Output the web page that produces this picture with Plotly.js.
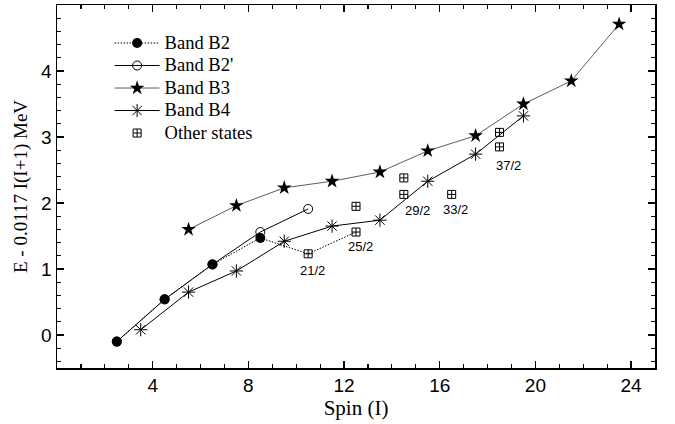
<!DOCTYPE html>
<html><head><meta charset="utf-8">
<script src="https://cdn.plot.ly/plotly-3.0.1.min.js"></script>
<style>html,body{margin:0;padding:0;background:#fff;}#chart{width:675px;height:424px;}</style>
</head><body><div id="chart"></div>
<script>
// Band B2 (filled circles)
const b2Spin = [2.5, 4.5, 6.5, 8.5];
const b2E = [-0.10, 0.54, 1.07, 1.47];
// Band B2' (open circles, sharing the low-spin part of B2)
const b2pSpin = [2.5, 4.5, 6.5, 8.5, 10.5];
const b2pE = [-0.10, 0.54, 1.07, 1.56, 1.91];
// Band B3 (stars)
const b3Spin = [5.5, 7.5, 9.5, 11.5, 13.5, 15.5, 17.5, 19.5, 21.5, 23.5];
const b3E = [1.60, 1.96, 2.23, 2.33, 2.47, 2.79, 3.02, 3.50, 3.85, 4.71];
// Band B4 (asterisks)
const b4Spin = [3.5, 5.5, 7.5, 9.5, 11.5, 13.5, 15.5, 17.5, 19.5];
const b4E = [0.08, 0.65, 0.97, 1.42, 1.65, 1.74, 2.33, 2.74, 3.32];
// Other states
const otherSpin = [10.5, 12.5, 12.5, 14.5, 14.5, 16.5, 18.5, 18.5];
const otherE = [1.23, 1.56, 1.95, 2.38, 2.13, 2.13, 3.07, 2.85];
const otherLabels = ["21/2", "25/2", "", "", "29/2", "33/2", "", "37/2"];
// dotted continuation of B2 through the 21/2 and 25/2 states
const linkIdx = [0, 1];
const seriesNames = ["Band B2", "Band B2'", "Band B3", "Band B4", "Other states"];

const labelXShift = [4, 4, 0, 0, 14, 4, 0, 9];
const labelYShift = [-7, -5, 0, 0, -7, -6, 0, -9];

const linkX = [b2Spin[b2Spin.length-1]].concat(linkIdx.map(i => otherSpin[i]));
const linkY = [b2E[b2E.length-1]].concat(linkIdx.map(i => otherE[i]));

const SERIF = 'Liberation Serif';
const SANS = 'Liberation Sans';
const dotted = '1.5px,1.5px';
const nm = s => '<span style="font-size:18.5px">' + s + '</span>';

const traces = [
  {x: linkX, y: linkY, mode: 'lines', line: {color: '#000', width: 1, dash: dotted}, showlegend: false, hoverinfo: 'skip'},
  {x: b2pSpin, y: b2pE, mode: 'lines+markers', name: nm(seriesNames[1]), legendrank: 2,
   line: {color: '#000', width: 1},
   marker: {symbol: 'circle-open', size: 9, color: '#000', line: {width: 1, color: '#000'}}},
  {x: b2Spin, y: b2E, mode: 'lines+markers', name: nm(seriesNames[0]), legendrank: 1,
   line: {color: '#000', width: 1, dash: dotted},
   marker: {symbol: 'circle', size: 10, color: '#000'}},
  {x: b3Spin, y: b3E, mode: 'lines+markers', name: nm(seriesNames[2]), legendrank: 3,
   line: {color: '#333', width: 0.8},
   marker: {symbol: 'star', size: 11, color: '#000'}},
  {x: b4Spin, y: b4E, mode: 'lines+markers', name: nm(seriesNames[3]), legendrank: 4,
   line: {color: '#000', width: 1},
   marker: {symbol: 'asterisk-open', size: 11, color: '#000', line: {width: 1, color: '#000'}}},
  {x: otherSpin, y: otherE, mode: 'markers', name: nm(seriesNames[4]), legendrank: 5,
   marker: {symbol: 'square-cross-open', size: 8, color: '#000', line: {width: 1, color: '#000'}}}
];

const annotations = [];
otherLabels.forEach((t, i) => {
  if (!t) return;
  annotations.push({x: otherSpin[i], y: otherE[i], xref: 'x', yref: 'y', text: t, showarrow: false,
    xanchor: 'center', yanchor: 'top', xshift: labelXShift[i], yshift: labelYShift[i],
    font: {family: SANS, size: 13, color: '#000'}});
});

const axisCommon = {
  showgrid: false, zeroline: false, showline: true, linecolor: '#000', linewidth: 1.5, mirror: 'allticks',
  ticks: 'inside', ticklen: 7, tickwidth: 1.5, tickcolor: '#000',
  tickfont: {family: SANS, size: 19, color: '#000'}
};

const layout = {
  width: 675, height: 424,
  margin: {l: 57, r: 20, t: 5, b: 56},
  paper_bgcolor: '#fff', plot_bgcolor: '#fff',
  font: {family: SERIF, color: '#000'},
  showlegend: true,
  legend: {x: 0.088, y: 0.94, xanchor: 'left', yanchor: 'top', bgcolor: 'rgba(0,0,0,0)',
    font: {family: SERIF, size: 15, color: '#000'},
    tracegroupgap: 0, itemwidth: 45},
  xaxis: Object.assign({}, axisCommon, {range: [0, 25], tickvals: [4, 8, 12, 16, 20, 24],
    minor: {dtick: 1, tick0: 0, ticks: 'inside', ticklen: 4, tickwidth: 1.2, tickcolor: '#000'},
    title: {text: 'Spin (I)', font: {family: SERIF, size: 21, color: '#000'}, standoff: 4}}),
  yaxis: Object.assign({}, axisCommon, {range: [-0.5, 5], tickvals: [0, 1, 2, 3, 4],
    minor: {dtick: 0.2, tick0: 0, ticks: 'inside', ticklen: 4, tickwidth: 1.2, tickcolor: '#000'},
    title: {text: 'E - 0.0117 I(I+1) MeV', font: {family: SERIF, size: 19, color: '#000'}, standoff: 8}}),
  annotations: annotations
};

Plotly.newPlot('chart', traces, layout, {displayModeBar: false, staticPlot: true});
</script></body></html>
